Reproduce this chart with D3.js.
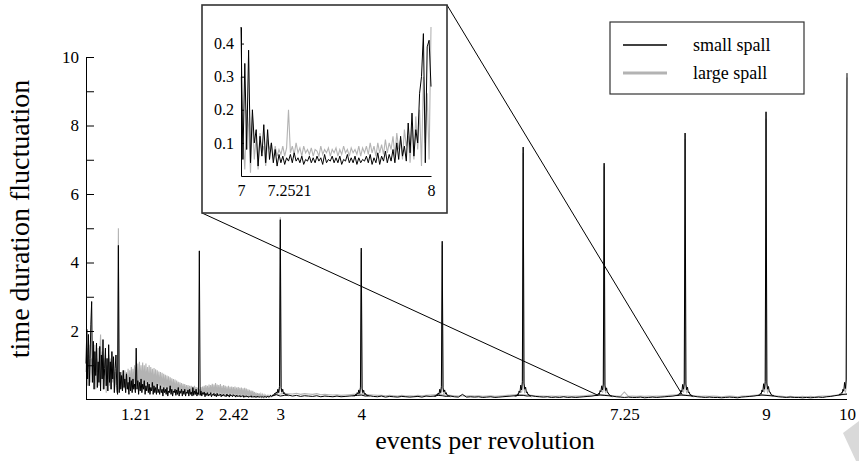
<!DOCTYPE html>
<html>
<head>
<meta charset="utf-8">
<script src="https://cdn.jsdelivr.net/npm/d3@7"></script>
<style>
    body { margin: 0; background: #fff; }
    text { font-family: "Liberation Serif", "Times New Roman", serif; fill: #000; }
</style>
</head>
<body>
<div id="graph"></div>
<script>
/* Spectrum values */
const lowStart = 0.6, lowStep = 0.01   // 0.60 .. 2.90
const smallLow = [
    1.05, 2.05, 0.6, 1.9, 0.4, 1.2, 2.2, 2.86, 0.5, 1.7,
    0.3, 1.4, 0.7, 1.65, 0.35, 1.1, 0.5, 1.55, 0.25, 1.3,
    0.6, 1.75, 0.3, 0.9, 1.5, 0.4, 1.2, 0.25, 1.6, 0.5,
    1.1, 0.3, 1.4, 0.6, 1.25, 0.2, 0.9, 1.3, 0.4, 0.15,
    4.5, 0.2, 0.8, 0.3, 0.7, 0.25, 0.85, 0.35, 0.6, 0.2,
    0.75, 0.3, 0.5, 0.15, 0.65, 0.25, 0.55, 0.2, 0.6, 0.3,
    0.45, 0.2, 1.5, 0.3, 0.55, 0.15, 0.5, 0.25, 0.6, 0.2,
    0.45, 0.3, 0.55, 0.15, 0.4, 0.25, 0.5, 0.2, 0.45, 0.15,
    0.35, 0.25, 0.5, 0.15, 0.4, 0.2, 0.35, 0.15, 0.45, 0.2,
    0.3, 0.15, 0.4, 0.2, 0.3, 0.1, 0.35, 0.2, 0.3, 0.15,
    0.35, 0.1, 0.25, 0.2, 0.4, 0.15, 0.3, 0.1, 0.25, 0.2,
    0.3, 0.12, 0.28, 0.15, 0.35, 0.1, 0.25, 0.18, 0.3, 0.1,
    0.25, 0.15, 0.3, 0.1, 0.22, 0.18, 0.28, 0.1, 0.3, 0.15,
    0.22, 0.1, 0.35, 0.12, 0.25, 0.15, 0.3, 0.1, 0.2, 0.15,
    4.34, 0.12, 0.25, 0.1, 0.2, 0.15, 0.22, 0.08, 0.18, 0.12,
    0.2, 0.1, 0.16, 0.12, 0.2, 0.08, 0.15, 0.12, 0.18, 0.1,
    0.15, 0.08, 0.18, 0.1, 0.14, 0.12, 0.16, 0.08, 0.14, 0.1,
    0.15, 0.1, 0.12, 0.08, 0.16, 0.1, 0.13, 0.07, 0.15, 0.1,
    0.12, 0.08, 0.14, 0.1, 0.12, 0.07, 0.13, 0.09, 0.11, 0.08,
    0.12, 0.07, 0.1, 0.09, 0.12, 0.06, 0.1, 0.08, 0.11, 0.07,
    0.1, 0.06, 0.09, 0.08, 0.11, 0.06, 0.09, 0.07, 0.1, 0.06,
    0.09, 0.06, 0.1, 0.07, 0.08, 0.06, 0.09, 0.07, 0.08, 0.06,
    0.09, 0.07, 0.08, 0.06, 0.1, 0.07, 0.09, 0.08, 0.12, 0.09,
    0.1
]
const largeLow = [
    0.8, 1.5, 0.4, 1.3, 0.9, 1.6, 0.5, 1.2, 0.7, 1.4,
    0.5, 1.6, 0.3, 1.2, 0.8, 1.5, 0.4, 1.3, 1.9, 0.6,
    1.4, 0.3, 1.2, 0.7, 1.3, 0.2, 1.0, 0.6, 1.3, 0.4,
    1.2, 0.3, 0.9, 0.5, 1.1, 0.3, 0.8, 0.4, 0.2, 0.3,
    5.0, 0.3, 0.7, 0.35, 0.8, 0.4, 0.75, 0.3, 0.85, 0.4,
    0.8, 0.35, 0.9, 0.3, 0.85, 0.4, 0.95, 0.35, 0.9, 0.45,
    1.0, 0.35, 0.95, 0.4, 1.05, 0.3, 1.1, 0.45, 1.0, 0.35,
    1.08, 0.4, 1.0, 0.3, 1.05, 0.45, 0.95, 0.35, 1.0, 0.3,
    0.95, 0.4, 0.9, 0.3, 0.92, 0.35, 0.88, 0.3, 0.85, 0.4,
    0.82, 0.3, 0.8, 0.35, 0.78, 0.25, 0.75, 0.3, 0.72, 0.25,
    0.7, 0.3, 0.68, 0.25, 0.65, 0.28, 0.62, 0.22, 0.6, 0.25,
    0.58, 0.2, 0.55, 0.25, 0.52, 0.2, 0.5, 0.22, 0.48, 0.18,
    0.46, 0.2, 0.45, 0.16, 0.42, 0.18, 0.42, 0.15, 0.4, 0.17,
    0.4, 0.15, 0.38, 0.17, 0.4, 0.14, 0.36, 0.16, 0.35, 0.12,
    0.3, 0.15, 0.36, 0.13, 0.38, 0.16, 0.4, 0.14, 0.42, 0.15,
    0.4, 0.14, 0.44, 0.15, 0.42, 0.16, 0.46, 0.14, 0.44, 0.15,
    0.48, 0.15, 0.44, 0.14, 0.42, 0.13, 0.45, 0.12, 0.4, 0.12,
    0.42, 0.12, 0.4, 0.11, 0.38, 0.12, 0.4, 0.1, 0.37, 0.11,
    0.38, 0.1, 0.36, 0.11, 0.38, 0.1, 0.35, 0.09, 0.36, 0.1,
    0.34, 0.09, 0.35, 0.1, 0.33, 0.09, 0.34, 0.08, 0.32, 0.09,
    0.3, 0.08, 0.28, 0.09, 0.26, 0.08, 0.25, 0.08, 0.22, 0.07,
    0.2, 0.07, 0.19, 0.08, 0.18, 0.07, 0.16, 0.07, 0.15, 0.07,
    0.14, 0.07, 0.13, 0.08, 0.12, 0.07, 0.12, 0.07, 0.12, 0.08,
    0.12
]

const highStart = 2.9, highStep = 0.05   // 2.90 .. 10.00
const smallHigh = [
    0.1, 0.14, 0.1, 0.12, 0.13, 0.1, 0.12, 0.09, 0.11, 0.1,
    0.09, 0.11, 0.08, 0.1, 0.09, 0.08, 0.1, 0.08, 0.09, 0.1,
    0.11, 0.12, 0.13, 0.1, 0.11, 0.09, 0.08, 0.1, 0.07, 0.09,
    0.08, 0.07, 0.09, 0.08, 0.07, 0.08, 0.09, 0.07, 0.1, 0.09,
    0.1, 0.12, 0.11, 0.09, 0.1, 0.08, 0.07, 0.15, 0.07, 0.08,
    0.07, 0.08, 0.06, 0.07, 0.08, 0.06, 0.07, 0.08, 0.09, 0.1,
    0.11, 0.12, 0.12, 0.1, 0.11, 0.09, 0.08, 0.07, 0.08, 0.06,
    0.07, 0.06, 0.08, 0.06, 0.07, 0.06, 0.07, 0.08, 0.09, 0.1,
    0.12, 0.13, 0.12, 0.11, 0.1, 0.08, 0.07, 0.06, 0.07, 0.06,
    0.06, 0.07, 0.05, 0.06, 0.07, 0.06, 0.07, 0.08, 0.09, 0.1,
    0.12, 0.13, 0.12, 0.11, 0.1, 0.08, 0.07, 0.06, 0.07, 0.06,
    0.06, 0.05, 0.06, 0.07, 0.06, 0.05, 0.07, 0.08, 0.09, 0.1,
    0.12, 0.13, 0.12, 0.11, 0.1, 0.08, 0.07, 0.06, 0.07, 0.06,
    0.06, 0.05, 0.06, 0.05, 0.06, 0.07, 0.06, 0.08, 0.09, 0.11,
    0.13, 0.15, 0.16
]
const largeHigh = [
    0.12, 0.15, 0.16, 0.18, 0.17, 0.16, 0.18, 0.15, 0.17, 0.16,
    0.15, 0.17, 0.14, 0.15, 0.14, 0.13, 0.14, 0.12, 0.13, 0.14,
    0.15, 0.16, 0.16, 0.15, 0.14, 0.13, 0.12, 0.12, 0.11, 0.12,
    0.11, 0.1, 0.12, 0.1, 0.11, 0.1, 0.12, 0.11, 0.12, 0.13,
    0.14, 0.15, 0.14, 0.13, 0.12, 0.11, 0.1, 0.11, 0.1, 0.11,
    0.1, 0.11, 0.09, 0.1, 0.11, 0.09, 0.1, 0.11, 0.12, 0.13,
    0.14, 0.15, 0.14, 0.13, 0.12, 0.11, 0.1, 0.1, 0.09, 0.1,
    0.09, 0.1, 0.09, 0.1, 0.09, 0.1, 0.1, 0.11, 0.12, 0.13,
    0.14, 0.15, 0.14, 0.12, 0.11, 0.1, 0.09, 0.22, 0.09, 0.1,
    0.09, 0.1, 0.09, 0.1, 0.09, 0.1, 0.1, 0.11, 0.12, 0.13,
    0.14, 0.15, 0.14, 0.12, 0.11, 0.1, 0.09, 0.1, 0.09, 0.1,
    0.09, 0.08, 0.09, 0.1, 0.09, 0.08, 0.1, 0.1, 0.11, 0.12,
    0.13, 0.14, 0.13, 0.12, 0.11, 0.1, 0.09, 0.08, 0.09, 0.08,
    0.08, 0.09, 0.08, 0.09, 0.08, 0.09, 0.1, 0.1, 0.11, 0.12,
    0.13, 0.14, 0.15
]

/* harmonic peaks, sampled every 0.01 around each order */
const peakCenters = [3, 4, 5, 6, 7, 8, 9, 10]
const smallPeakStart = -0.1, largePeakStart = -0.02, peakStep = 0.01
const smallPeaks = [
    [0.1, 0.14, 0.12, 0.18, 0.15, 0.22, 0.18, 0.3, 0.2, 0.38, 5.25, 0.35, 0.22, 0.3, 0.17, 0.2, 0.14, 0.16, 0.12, 0.13, 0.11],
    [0.09, 0.12, 0.1, 0.15, 0.12, 0.2, 0.16, 0.28, 0.18, 0.36, 4.42, 0.33, 0.2, 0.27, 0.15, 0.18, 0.12, 0.14, 0.1, 0.11, 0.09],
    [0.08, 0.11, 0.09, 0.14, 0.12, 0.19, 0.15, 0.3, 0.2, 0.38, 4.62, 0.34, 0.22, 0.28, 0.16, 0.2, 0.12, 0.13, 0.1, 0.1, 0.08],
    [0.08, 0.12, 0.1, 0.16, 0.14, 0.25, 0.2, 0.42, 0.28, 0.52, 7.37, 0.48, 0.3, 0.36, 0.2, 0.22, 0.14, 0.15, 0.1, 0.1, 0.08],
    [0.1, 0.13, 0.12, 0.18, 0.15, 0.26, 0.22, 0.4, 0.28, 0.45, 6.9, 0.42, 0.26, 0.34, 0.2, 0.2, 0.14, 0.14, 0.1, 0.1, 0.08],
    [0.1, 0.13, 0.12, 0.18, 0.16, 0.27, 0.22, 0.44, 0.3, 0.48, 7.78, 0.45, 0.28, 0.36, 0.2, 0.22, 0.14, 0.15, 0.1, 0.1, 0.08],
    [0.1, 0.13, 0.12, 0.18, 0.16, 0.28, 0.22, 0.46, 0.3, 0.52, 8.4, 0.48, 0.3, 0.38, 0.22, 0.22, 0.15, 0.15, 0.11, 0.12, 0.1],
    [0.12, 0.16, 0.14, 0.2, 0.18, 0.3, 0.24, 0.5, 0.32, 0.57, 9.53]
]
const largePeaks = [
    [0.2, 0.3, 5.32, 0.28, 0.18],
    [0.15, 0.25, 4.3, 0.24, 0.14],
    [0.15, 0.25, 4.5, 0.24, 0.14],
    [0.2, 0.35, 7.2, 0.33, 0.18],
    [0.2, 0.3, 6.8, 0.3, 0.18],
    [0.2, 0.35, 7.6, 0.33, 0.18],
    [0.2, 0.35, 8.2, 0.33, 0.18],
    [0.2, 0.35, 9.4]
]

/* zoomed window 7 .. 8 */
const zoomStart = 7, zoomStep = 0.01
const smallZoom = [
    0.45, 0.05, 0.34, 0.08, 0.38, 0.04, 0.2, 0.1, 0.14, 0.03,
    0.12, 0.06, 0.155, 0.04, 0.14, 0.05, 0.1, 0.04, 0.08, 0.03,
    0.065, 0.04, 0.06, 0.035, 0.055, 0.045, 0.065, 0.04, 0.07, 0.045,
    0.055, 0.04, 0.06, 0.035, 0.05, 0.045, 0.06, 0.04, 0.055, 0.04,
    0.06, 0.045, 0.055, 0.035, 0.065, 0.04, 0.05, 0.045, 0.06, 0.04,
    0.055, 0.04, 0.06, 0.035, 0.05, 0.045, 0.065, 0.04, 0.055, 0.04,
    0.06, 0.035, 0.055, 0.04, 0.05, 0.045, 0.06, 0.04, 0.065, 0.035,
    0.055, 0.04, 0.07, 0.035, 0.06, 0.045, 0.075, 0.04, 0.065, 0.045,
    0.08, 0.04, 0.1, 0.05, 0.12, 0.06, 0.09, 0.045, 0.16, 0.07,
    0.19, 0.06, 0.14, 0.1, 0.25, 0.3, 0.43, 0.04, 0.39, 0.41,
    0.27
]
const largeZoom = [
    0.3, 0.12, 0.02, 0.2, 0.15, 0.01, 0.18, 0.05, 0.12, 0.02,
    0.13, 0.07, 0.09, 0.03, 0.11, 0.08, 0.1, 0.05, 0.09, 0.06,
    0.08, 0.065, 0.09, 0.06, 0.085, 0.2, 0.07, 0.09, 0.065, 0.1,
    0.07, 0.085, 0.06, 0.09, 0.07, 0.08, 0.065, 0.085, 0.06, 0.08,
    0.075, 0.06, 0.09, 0.065, 0.08, 0.07, 0.085, 0.06, 0.08, 0.07,
    0.085, 0.06, 0.08, 0.065, 0.09, 0.07, 0.08, 0.06, 0.085, 0.07,
    0.08, 0.065, 0.09, 0.06, 0.085, 0.07, 0.09, 0.065, 0.1, 0.07,
    0.09, 0.06, 0.1, 0.07, 0.095, 0.065, 0.11, 0.07, 0.1, 0.08,
    0.12, 0.06, 0.13, 0.08, 0.11, 0.05, 0.14, 0.09, 0.12, 0.04,
    0.15, 0.05, 0.18, 0.08, 0.2, 0.03, 0.3, 0.1, 0.25, 0.05,
    0.45
]

/* axes */
const xTicks = [1.21, 2, 2.42, 3, 4, 7.25, 9, 10]
const xLabels = ["1.21", "2", "2.42", "3", "4", "7.25", "9", "10"]
const yTicks = [1, 2, 3, 4, 5, 6, 7, 8, 9, 10]
const yLabels = ["", "2", "", "4", "", "6", "", "8", "", "10"]
const zoomXTicks = [7, 7.2521, 8]
const zoomXLabels = ["7", "7.2521", "8"]
const zoomYTicks = [0.1, 0.2, 0.3, 0.4]
const zoomYLabels = ["0.1", "0.2", "0.3", "0.4"]
const seriesNames = ["small spall", "large spall"]

window.addEventListener("DOMContentLoaded", main)

const SERIF = '"Liberation Serif", "Times New Roman", serif'

function toPoints(start, step, ys) {
    return ys.map((v, i) => [start + i * step, v])
}

function styleAxis(a, size) {
    a.attr("font-family", SERIF)
    a.selectAll("text").style("font-family", SERIF).style("font-size", size + "px")
    a.selectAll("path,line").attr("stroke", "#000")
}

function main() {
    const W = 859, H = 461
    const black = "#000", gray = "#b3b3b3"

    const svg = d3.select("#graph").append("svg").attr("width", W).attr("height", H)

    /* scales */
    const x = d3.scaleLinear().domain([0.6, 10]).range([86, 847])
    const y = d3.scaleLinear().domain([0, 10]).range([399.5, 57])

    const line = d3.line().x(d => x(d[0])).y(d => y(d[1]))

    /* series: gray first so that black sits on top */
    const grayParts = [toPoints(lowStart, lowStep, largeLow), toPoints(highStart, highStep, largeHigh)]
        .concat(largePeaks.map((p, i) => toPoints(peakCenters[i] + largePeakStart, peakStep, p)))
    const blackParts = [toPoints(lowStart, lowStep, smallLow), toPoints(highStart, highStep, smallHigh)]
        .concat(smallPeaks.map((p, i) => toPoints(peakCenters[i] + smallPeakStart, peakStep, p)))

    svg.append("g").selectAll("path").data(grayParts).enter().append("path")
        .attr("d", line).attr("fill", "none").attr("stroke", gray).attr("stroke-width", 1.1)
    svg.append("g").selectAll("path").data(blackParts).enter().append("path")
        .attr("d", line).attr("fill", "none").attr("stroke", black).attr("stroke-width", 1)

    /* X axis */
    const xAxis = svg.append("g").attr("transform", "translate(0,399.5)")
        .call(d3.axisBottom(x).tickValues(xTicks).tickSize(0).tickPadding(8)
            .tickFormat((d, i) => xLabels[i]))
    /* Y axis */
    const yAxis = svg.append("g").attr("transform", "translate(86,0)")
        .call(d3.axisLeft(y).tickValues(yTicks).tickSizeInner(-8).tickSizeOuter(0).tickPadding(7)
            .tickFormat((d, i) => yLabels[i]))
    styleAxis(xAxis, 17)
    styleAxis(yAxis, 17)
    xAxis.select(".domain").attr("d", "M86,0H847")

    svg.append("text").attr("x", 485).attr("y", 449).attr("text-anchor", "middle")
        .style("font-size", "26px").text("events per revolution")
    svg.append("text").attr("transform", "translate(29,219) rotate(-90)").attr("text-anchor", "middle")
        .style("font-size", "28px").text("time duration fluctuation")

    /* Zoom connectors */
    const box = { x0: 202, y0: 5, x1: 447, y1: 213 }
    svg.append("line").attr("x1", box.x0).attr("y1", box.y1)
        .attr("x2", x(zoomXTicks[0]) - 6).attr("y2", y(0.12))
        .attr("stroke", "#000").attr("stroke-width", 1)
    svg.append("line").attr("x1", box.x1).attr("y1", box.y0)
        .attr("x2", x(zoomXTicks[2]) - 3).attr("y2", y(0.15))
        .attr("stroke", "#000").attr("stroke-width", 1)

    /* Inset */
    svg.append("rect").attr("x", box.x0).attr("y", box.y0)
        .attr("width", box.x1 - box.x0).attr("height", box.y1 - box.y0)
        .attr("fill", "#fff").attr("stroke", "#333").attr("stroke-width", 1.6)

    const zx = d3.scaleLinear().domain([7, 8]).range([241, 431])
    const zy = d3.scaleLinear().domain([0, 0.45]).range([176, 27])
    const zline = d3.line().x(d => zx(d[0])).y(d => zy(d[1]))

    svg.append("path").datum(toPoints(zoomStart, zoomStep, largeZoom)).attr("d", zline)
        .attr("fill", "none").attr("stroke", gray).attr("stroke-width", 1.1)
    svg.append("path").datum(toPoints(zoomStart, zoomStep, smallZoom)).attr("d", zline)
        .attr("fill", "none").attr("stroke", black).attr("stroke-width", 1)

    const zxAxis = svg.append("g").attr("transform", "translate(0,176)")
        .call(d3.axisBottom(zx).tickValues(zoomXTicks).tickSize(0).tickPadding(9)
            .tickFormat((d, i) => zoomXLabels[i]))
    const zyAxis = svg.append("g").attr("transform", "translate(241,0)")
        .call(d3.axisLeft(zy).tickValues(zoomYTicks).tickSizeInner(-3).tickSizeOuter(0).tickPadding(7)
            .tickFormat((d, i) => zoomYLabels[i]))
    styleAxis(zxAxis, 16)
    styleAxis(zyAxis, 16)

    /* Legend */
    const legend = svg.append("g").attr("id", "legend")
    legend.append("rect").attr("x", 610).attr("y", 22).attr("width", 194).attr("height", 72)
        .attr("fill", "#fff").attr("stroke", "#333").attr("stroke-width", 1.2)
    const items = legend.selectAll(".legend-label").data(seriesNames).enter().append("g")
        .attr("class", "legend-label")
        .attr("transform", (d, i) => "translate(0," + (45 + i * 28) + ")")
    items.append("line").attr("x1", 623).attr("x2", 667)
        .attr("stroke", (d, i) => i === 0 ? black : gray)
        .attr("stroke-width", (d, i) => i === 0 ? 1.5 : 3)
    items.append("text").attr("x", 693).attr("y", 6).style("font-size", "18px").text(d => d)

    /* light gray mark in the corner */
    svg.append("path").attr("d", "M843,433L859,421L859,461L856,461Z").attr("fill", "#d9d9d9")
}
</script>
</body>
</html>
